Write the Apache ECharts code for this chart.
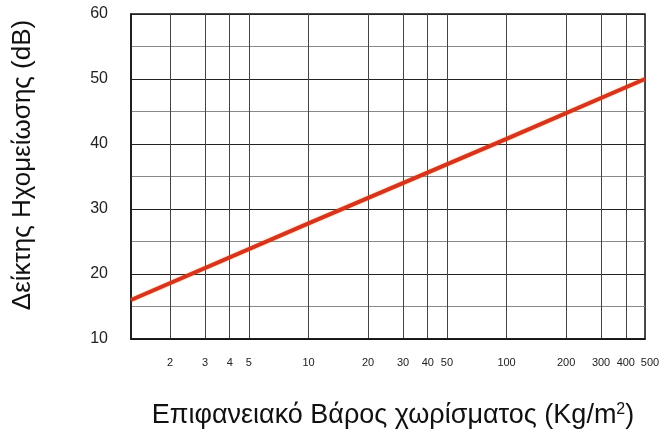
<!DOCTYPE html>
<html>
<head>
<meta charset="utf-8">
<script src="https://cdn.jsdelivr.net/npm/echarts@6/dist/echarts.min.js"></script>
<style>
html, body { margin: 0; padding: 0; background: #fff; }
#chart { width: 665px; height: 436px; }
</style>
</head>
<body>
<div id="chart"></div>
<script>
// επιφανειακό βάρος (kg/m2) και δείκτης ηχομείωσης (dB), διαβασμένα από το διάγραμμα
var massValues = [1.27, 10, 100, 500]
var dbValues = [16, 27.8, 40.8, 50]
var xTicks = [2, 3, 4, 5, 10, 20, 30, 40, 50, 100, 200, 300, 400, 500]
var yTicks = [10, 20, 30, 40, 50, 60]

var points = massValues.map(function (m, i) {
  return [m, dbValues[i]]
})

var myChart = echarts.init(document.getElementById('chart'))
var option = {
  animation: false,
  grid: {
    left: 131,
    right: 20,
    top: 14,
    bottom: 97,
    show: true,
    borderColor: '#111',
    borderWidth: 1.5
  },
  xAxis: {
    type: 'log',
    logBase: 10,
    min: 1.27,
    max: 500,
    name: '{t|Επιφανειακό Βάρος χωρίσματος (Kg/m}{s|2}{t|)}',
    nameLocation: 'middle',
    nameGap: 63,
    nameTextStyle: {
      padding: [0, 0, 0, 10],
      rich: {
        t: {
          fontFamily: 'Liberation Sans',
          fontSize: 27,
          color: '#111'
        },
        s: {
          fontFamily: 'Liberation Sans',
          fontSize: 16,
          color: '#111',
          padding: [0, 0, 11, 0]
        }
      }
    },
    axisLine: {
      show: true,
      lineStyle: { color: '#111', width: 1.5 }
    },
    axisTick: { // κρυφές υποδιαιρέσεις, μόνο για τις γραμμές πλέγματος
      show: false,
      customValues: xTicks
    },
    axisLabel: {
      customValues: xTicks,
      margin: 18,
      fontFamily: 'Liberation Sans',
      fontSize: 11,
      color: '#222',
      formatter: function (v) {
        // το τελευταίο label είναι λίγο δεξιότερα στο πρωτότυπο
        return v === 500 ? '{e|500}' : String(v)
      },
      rich: {
        e: {
          fontFamily: 'Liberation Sans',
          fontSize: 11,
          color: '#222',
          padding: [0, 0, 0, 10]
        }
      }
    },
    splitLine: {
      show: true,
      lineStyle: { color: '#444', width: 1 }
    }
  },
  yAxis: {
    type: 'value',
    min: yTicks[0],
    max: yTicks[yTicks.length - 1],
    interval: 10,
    name: 'Δείκτης Ηχομείωσης (dB)',
    nameLocation: 'middle',
    nameGap: 95,
    nameTextStyle: {
      fontFamily: 'Liberation Sans',
      fontSize: 26,
      color: '#111',
      padding: [0, 0, 0, 23]
    },
    axisLine: {
      show: true,
      lineStyle: { color: '#111', width: 1.5 }
    },
    axisTick: { show: false },
    axisLabel: {
      margin: 23,
      fontFamily: 'Liberation Sans',
      fontSize: 16,
      color: '#222'
    },
    splitLine: {
      show: true,
      lineStyle: { color: '#222', width: 1 }
    },
    minorTick: {
      show: false,
      splitNumber: 2
    },
    minorSplitLine: {
      show: true,
      lineStyle: { color: '#888', width: 1 }
    }
  },
  series: [{
    type: 'line',
    data: points,
    symbol: 'none',
    lineStyle: {
      color: '#d8341d',
      width: 4,
      shadowColor: 'rgba(230, 120, 30, 0.6)',
      shadowBlur: 2
    }
  }]
}
myChart.setOption(option)
</script>
</body>
</html>
